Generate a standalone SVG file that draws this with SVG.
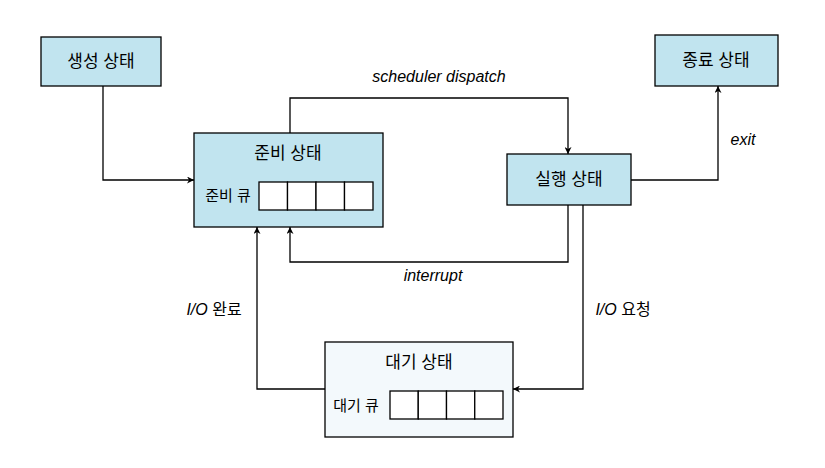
<svg xmlns="http://www.w3.org/2000/svg" width="825" height="468" viewBox="0 0 825 468">
<style>
.box{fill:#c1e4ef;stroke:#000;stroke-width:1.3}
.wbox{fill:#f3f9fc;stroke:#000;stroke-width:1.3}
.cell{fill:#fff;stroke:#000;stroke-width:1.3}
.t{font-family:"Liberation Sans","Noto Sans CJK KR",sans-serif;font-size:17px;fill:#000;text-anchor:middle}
.s{font-family:"Liberation Sans","Noto Sans CJK KR",sans-serif;font-size:15px;fill:#000;text-anchor:middle}
.l{font-family:"Liberation Sans","Noto Sans CJK KR",sans-serif;font-size:16px;fill:#000;text-anchor:middle}
.i{font-style:italic}
.c{fill:none;stroke:#000;stroke-width:1.3;marker-end:url(#a)}
</style>
<defs>
<marker id="a" viewBox="0 0 10 10" refX="10" refY="5" markerWidth="7" markerHeight="7" markerUnits="userSpaceOnUse" orient="auto">
<path d="M0,0 L10,5 L0,10 L3,5 Z" fill="#000"/>
</marker>
</defs>
<g id="connectors">
<path class="c" d="M103,86 V180 H194"/>
<path class="c" d="M290,133 V98 H568 V154"/>
<path class="c" d="M631,180 H718 V86"/>
<path class="c" d="M568,205 V262 H290 V227"/>
<path class="c" d="M583,205 V389 H513"/>
<path class="c" d="M325,389 H257 V227"/>
<text class="l i" x="439" y="82">scheduler dispatch</text>
<text class="l i" x="743" y="145">exit</text>
<text class="l i" x="433" y="281">interrupt</text>
<text class="l" x="214" y="315"><tspan class="i">I/O</tspan> 완료</text>
<text class="l" x="623" y="315"><tspan class="i">I/O</tspan> 요청</text>
</g>
<g id="create">
<rect class="box" x="41" y="37" width="120" height="49"/>
<text class="t" x="101" y="67">생성 상태</text>
</g>
<g id="terminate">
<rect class="box" x="655" y="35" width="123" height="51"/>
<text class="t" x="716" y="66">종료 상태</text>
</g>
<g id="ready">
<rect class="box" x="194" y="133" width="189" height="94"/>
<text class="t" x="288" y="159">준비 상태</text>
<text class="s" x="228" y="201">준비 큐</text>
<rect class="cell" x="259" y="182" width="28.5" height="28"/>
<rect class="cell" x="287.5" y="182" width="28.5" height="28"/>
<rect class="cell" x="316" y="182" width="28.5" height="28"/>
<rect class="cell" x="344.5" y="182" width="28.5" height="28"/>
</g>
<g id="running">
<rect class="box" x="507" y="154" width="124" height="51"/>
<text class="t" x="569" y="185">실행 상태</text>
</g>
<g id="waiting">
<rect class="wbox" x="325" y="342" width="188" height="95"/>
<text class="t" x="419" y="368">대기 상태</text>
<text class="s" x="356" y="411">대기 큐</text>
<rect class="cell" x="390" y="391" width="28.25" height="28"/>
<rect class="cell" x="418.25" y="391" width="28.25" height="28"/>
<rect class="cell" x="446.5" y="391" width="28.25" height="28"/>
<rect class="cell" x="474.75" y="391" width="28.25" height="28"/>
</g>
</svg>
